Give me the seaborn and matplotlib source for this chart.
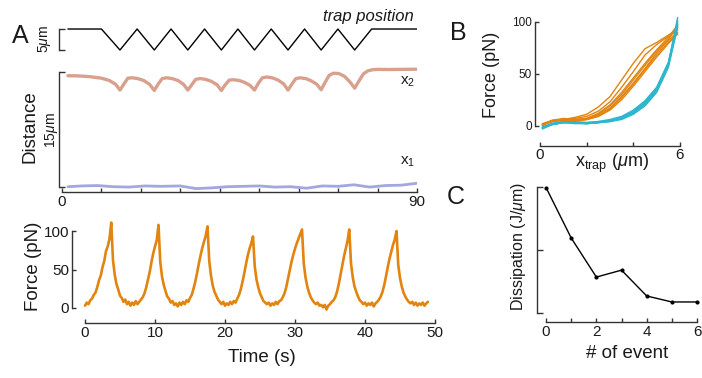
import numpy as np
import pandas as pd
import matplotlib
matplotlib.use('Agg')
import matplotlib.pyplot as plt
import seaborn as sns

sns.set_style('ticks')
plt.rcParams['font.family'] = ['Liberation Sans', 'DejaVu Sans']
plt.rcParams['mathtext.fontset'] = 'custom'
plt.rcParams['mathtext.rm'] = 'Liberation Sans'
plt.rcParams['mathtext.it'] = 'Liberation Sans:italic'
plt.rcParams['axes.unicode_minus'] = False

# ------------------------------------------------------------------
# data
# ------------------------------------------------------------------
# A top: trap position (um), vertices of the zigzag
trap_t = [1.5, 10.0, 14.7, 19.05, 23.4, 27.65, 31.9, 36.15, 40.4, 44.6,
          48.8, 53.05, 57.3, 61.5, 65.7, 69.95, 74.2, 78.5, 90.0]
trap_pos = [5, 5, 0, 5, 0, 5, 0, 5, 0, 5, 0, 5, 0, 5, 0, 5, 0, 5, 5]

# A middle: bead distances (um)
x2_t = [1.5, 4, 7, 10, 12, 13.6, 14.7,
        15.7, 16.7, 17.8, 19.2, 20.7, 22.2, 23.4,
        24.4, 25.4, 26.5, 27.9, 29.4, 30.8, 31.9,
        32.9, 33.9, 35.0, 36.4, 37.8, 39.3, 40.4,
        41.4, 42.4, 43.5, 44.9, 46.3, 47.7, 48.8,
        49.8, 50.8, 51.9, 53.3, 54.8, 56.2, 57.3,
        58.3, 59.3, 60.4, 61.8, 63.2, 64.6, 65.7,
        66.7, 67.7, 68.8, 70.2, 71.6, 73.1, 74.2,
        75.3, 76.4, 77.5, 78.7, 80, 83, 86, 90]
x2_val = [14.47, 14.45, 14.35, 14.15, 13.85, 13.35, 12.6,
          13.4, 14.15, 14.2, 14.1, 13.85, 13.35, 12.55,
          13.4, 14.1, 14.2, 14.1, 13.85, 13.35, 12.6,
          13.3, 14.0, 14.1, 14.0, 13.75, 13.3, 12.55,
          13.3, 13.9, 13.95, 13.85, 13.6, 13.2, 12.6,
          13.5, 14.2, 14.3, 14.2, 13.9, 13.4, 12.6,
          13.4, 14.1, 14.2, 14.1, 13.8, 13.35, 12.65,
          13.6, 14.5, 14.8, 14.75, 14.4, 13.6, 12.85,
          13.8, 14.7, 15.1, 15.25, 15.3, 15.28, 15.3, 15.32]
x1_t = [1.5, 5, 9, 13, 17, 21, 25, 30, 34, 38, 42, 46, 50, 54, 58, 62, 66,
        70, 74, 78, 82, 86, 90]
x1_val = [0.0, 0.1, 0.15, 0.0, -0.05, 0.1, 0.05, 0.1, -0.25, -0.15, 0.0,
          0.05, 0.1, -0.05, 0.0, -0.2, 0.1, 0.05, 0.25, -0.05, 0.15, 0.2, 0.45]

# A bottom: force trace (pN), sampled every 0.25 s from 0 to 49 s
force_dt = 0.25
force_val = [3, 7, 5, 10, 12, 17, 20, 27, 36, 42, 53, 61, 74, 80, 90, 111,
             62, 43, 31, 24, 16, 13, 8, 11, 5, 8, 3, 7, 4, 9, 5, 8,
             11, 14, 19, 27, 37, 47, 60, 71, 80, 88, 108, 60, 41, 30, 22, 15,
             12, 7, 9, 4, 6, 2, 7, 4, 8, 5, 10, 8, 13, 17, 25, 34,
             45, 57, 68, 78, 86, 94, 106, 61, 42, 29, 21, 16, 11, 8, 5, 8,
             3, 6, 4, 8, 5, 9, 7, 12, 17, 24, 34, 45, 57, 68, 77, 84,
             93, 54, 37, 27, 19, 14, 9, 7, 5, 7, 3, 6, 4, 8, 5, 9,
             10, 14, 19, 27, 38, 49, 60, 69, 77, 84, 90, 96, 102, 58, 40, 28,
             20, 14, 10, 7, 5, 7, 3, 4, 1, 4, -2, 3, 5, 8, 10, 14,
             21, 31, 43, 55, 67, 77, 87, 102, 58, 40, 28, 21, 15, 10, 8, 5,
             7, 3, 6, 4, 7, 2, 6, 8, 11, 15, 21, 30, 41, 53, 64, 73,
             82, 89, 100, 56, 39, 28, 20, 15, 11, 8, 6, 8, 4, 7, 3, 6,
             4, 7, 3, 6, 8]

# B: force vs trap position, stretching (orange) and relaxing (cyan)
xtrap = [0.1, 0.5, 1.0, 1.5, 2.0, 2.5, 3.0, 3.5, 4.0, 4.5, 5.0, 5.5, 5.9]
stretch = [
    [1, 4, 6, 8, 11, 18, 28, 44, 60, 74, 80, 87, 93],
    [1, 4, 6, 7, 9, 14, 23, 37, 52, 68, 78, 86, 92],
    [0, 5, 6, 5, 6, 10, 17, 28, 41, 55, 70, 82, 90],
    [1, 4, 5, 5, 6, 9, 16, 27, 40, 54, 68, 80, 89],
    [0, 5, 7, 6, 7, 11, 19, 30, 44, 58, 72, 83, 95],
    [2, 5, 6, 5, 6, 9, 15, 25, 38, 52, 66, 79, 88],
    [1, 4, 6, 6, 7, 12, 20, 32, 46, 60, 73, 85, 97],
]
relax = [
    [-3, 1, 3, 3, 2, 3, 4, 7, 12, 21, 34, 58, 100],
    [-2, 2, 4, 3, 3, 3, 5, 8, 14, 23, 36, 60, 104],
    [-1, 2, 3, 4, 3, 4, 6, 9, 15, 24, 37, 61, 98],
    [-3, 1, 3, 2, 2, 3, 4, 6, 11, 19, 32, 56, 95],
    [-2, 2, 4, 3, 3, 4, 5, 8, 13, 22, 35, 59, 102],
    [-2, 1, 3, 3, 2, 3, 5, 7, 12, 20, 33, 57, 97],
]

# C: dissipation per event (arbitrary units)
events = [0, 1, 2, 3, 4, 5, 6]
dissipation = [1.99, 1.19, 0.57, 0.68, 0.27, 0.175, 0.175]

# ------------------------------------------------------------------
ORANGE = '#E2840F'
CYAN = '#2CB7CC'
X2_COL = '#D9A08E'
X1_COL = '#A3A6DF'
INK = '#333333'
TXT = '#1a1a1a'

W, H = 702, 378


def box(left, top, right, bottom):
    # pixel box -> figure fraction
    return [left / W, 1 - bottom / H, (right - left) / W, (bottom - top) / H]


def ftext(x, y, s, **kw):
    kw.setdefault('ha', 'center')
    kw.setdefault('va', 'center')
    kw.setdefault('color', TXT)
    fig.text(x / W, 1 - y / H, s, **kw)


def style(ax):
    sns.despine(ax=ax)
    for sp in ['left', 'bottom']:
        ax.spines[sp].set_color(INK)
        ax.spines[sp].set_linewidth(1.0)
    ax.tick_params(direction='in', color=INK, width=1.0, labelcolor=TXT, pad=2)
    ax.set_xlabel('')
    ax.set_ylabel('')
    ax.patch.set_alpha(0)


fig = plt.figure(figsize=(7.02, 3.78), dpi=100)

# ---- A: trap position ----
ax_trap = fig.add_axes(box(59, 22, 417, 55))
sns.lineplot(x=trap_t, y=trap_pos, ax=ax_trap, color='black', lw=1.0, sort=False)
ax_trap.set_xlim(-0.76, 90)
ax_trap.set_ylim(-1.19, 6.67)
style(ax_trap)
ax_trap.spines['bottom'].set_visible(False)
ax_trap.spines['left'].set_bounds(0, 5)
ax_trap.set_xticks([])
ax_trap.set_yticks([0, 5])
ax_trap.set_yticklabels([])
ax_trap.tick_params(axis='y', length=4)

# ---- A: distances ----
ax_dist = fig.add_axes(box(59, 62, 417, 192.3))
sns.lineplot(x=x2_t, y=x2_val, ax=ax_dist, color=X2_COL, lw=2.4, sort=False)
sns.lineplot(x=x1_t, y=x1_val, ax=ax_dist, color=X1_COL, lw=2.0, sort=False)
ax_dist.set_xlim(-0.76, 90)
ax_dist.set_ylim(-0.73, 16.26)
style(ax_dist)
ax_dist.spines['left'].set_bounds(0, 15)
ax_dist.spines['bottom'].set_bounds(0, 90)
ax_dist.set_yticks([0, 15])
ax_dist.set_yticklabels([])
ax_dist.tick_params(axis='y', length=4)
ax_dist.set_xticks(np.arange(0, 91, 10))
ax_dist.set_xticklabels(['0'] + [''] * 8 + ['90'], fontsize=11)
ax_dist.tick_params(axis='x', length=3)

# ---- A: force trace ----
force_t = np.arange(len(force_val)) * force_dt
ax_f = fig.add_axes(box(72, 212, 435, 323))
sns.lineplot(x=force_t, y=force_val, ax=ax_f, color=ORANGE, lw=1.9)
ax_f.set_xlim(-1.857, 50)
ax_f.set_ylim(-19.5, 124.7)
style(ax_f)
ax_f.spines['left'].set_bounds(0, 100)
ax_f.spines['bottom'].set_bounds(0, 50)
ax_f.set_yticks([0, 50, 100])
ax_f.set_xticks(np.arange(0, 51, 10))
ax_f.tick_params(labelsize=11, length=3)

# ---- B: force vs trap position ----
rows = []
for i, tr in enumerate(stretch):
    for xv, fv in zip(xtrap, tr):
        rows.append({'trace': f's{i}', 'dir': 'stretch', 'xtrap': xv, 'force': fv})
for i, tr in enumerate(relax):
    for xv, fv in zip(xtrap, tr):
        rows.append({'trace': f'r{i}', 'dir': 'relax', 'xtrap': xv, 'force': fv})
df_b = pd.DataFrame(rows)

ax_b = fig.add_axes(box(535, 15, 680, 145.7))
sns.lineplot(data=df_b, x='xtrap', y='force', hue='dir', units='trace',
             estimator=None, sort=False, palette={'stretch': ORANGE, 'relax': CYAN},
             lw=1.0, legend=False, ax=ax_b)
ax_b.set_xlim(-0.214, 6)
ax_b.set_ylim(-19.2, 106.4)
style(ax_b)
ax_b.spines['left'].set_bounds(0, 100)
ax_b.spines['bottom'].set_bounds(0, 6)
ax_b.set_yticks([0, 50, 100])
ax_b.tick_params(axis='y', labelsize=8.5, length=3)
ax_b.set_xticks([0, 2, 4, 6])
ax_b.set_xticklabels(['0', '', '', '6'], fontsize=11)
ax_b.tick_params(axis='x', length=3)

# ---- C: dissipation ----
ax_c = fig.add_axes(box(537, 183, 697, 322))
sns.lineplot(x=events, y=dissipation, ax=ax_c, color='black', lw=1.0,
             marker='o', markersize=3, markeredgewidth=0, clip_on=False)
ax_c.set_xlim(-0.36, 6)
ax_c.set_ylim(-0.143, 2.063)
style(ax_c)
ax_c.spines['left'].set_bounds(0, 2)
ax_c.spines['bottom'].set_bounds(0, 6)
ax_c.set_yticks([0, 1, 2])
ax_c.set_yticklabels([])
ax_c.tick_params(axis='y', length=4)
ax_c.set_xticks(events)
ax_c.set_xticklabels(['0', '', '2', '', '4', '', '6'], fontsize=11)
ax_c.tick_params(axis='x', length=3)

# ---- texts ----
ftext(20, 36, 'A', fontsize=18)
ftext(458, 33, 'B', fontsize=18)
ftext(456, 197, 'C', fontsize=18)

ftext(414, 17, 'trap position', fontsize=12, style='italic', ha='right')
ftext(45, 39, r'5$\mu$m', fontsize=10, rotation=90)
ftext(30, 127, 'Distance', fontsize=13.5, rotation=90)
ftext(51, 130, r'15$\mu$m', fontsize=10, rotation=90)
ftext(400, 82, r'x$_2$', fontsize=11, ha='left')
ftext(400, 162, r'x$_1$', fontsize=11, ha='left')

ftext(33, 266, 'Force (pN)', fontsize=13.5, rotation=90)
ftext(262, 357, 'Time (s)', fontsize=13.5)

ftext(492, 75, 'Force (pN)', fontsize=13, rotation=90)
ftext(612, 167, r'x$_{\mathrm{trap}}$ ($\mu$m)', fontsize=13, va='baseline')

ftext(519, 247, r'Dissipation (J/$\mu$m)', fontsize=11.5, rotation=90)
ftext(627, 354, '# of event', fontsize=13.5)

fig.savefig('out.png', dpi=100)
